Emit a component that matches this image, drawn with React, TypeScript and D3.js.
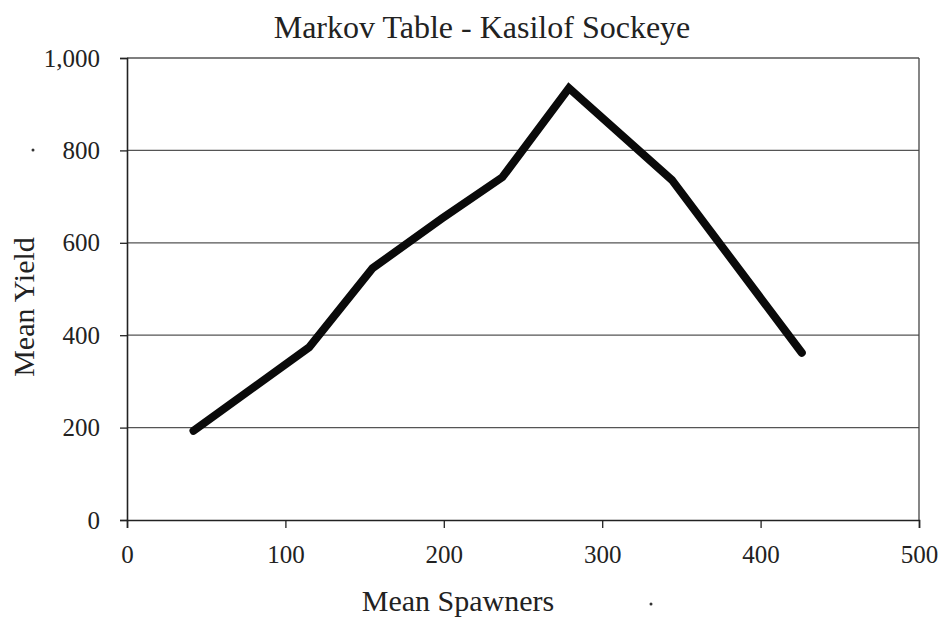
import React, { useEffect, useRef } from 'react';
import * as d3 from 'd3';

// Markov table values
const meanSpawners = [42, 115, 155, 199, 237, 279, 344, 426];
const meanYield = [193, 374, 545, 653, 742, 935, 736, 362];
const xTicks = [0, 100, 200, 300, 400, 500];
const yTicks = [0, 200, 400, 600, 800, 1000];

const App: React.FC = () => {
  const chartRef = useRef<HTMLDivElement>(null);

  useEffect(() => {
    if (!chartRef.current) return;
    document.body.style.margin = '0';
    d3.select(chartRef.current).selectAll('*').remove();

    const width = 943;
    const height = 617;
    const margin = { top: 58, right: 24, bottom: 97, left: 127 };
    const font = '"Liberation Serif", "Times New Roman", serif';

    const svg = d3.select(chartRef.current)
      .append('svg')
      .attr('width', width)
      .attr('height', height)
      .style('display', 'block')
      .style('background', '#fff');

    const x = d3.scaleLinear().domain([0, 500]).range([margin.left, width - margin.right]);
    const y = d3.scaleLinear().domain([0, 1000]).range([height - margin.bottom, margin.top]);

    // grid lines
    svg.append('g')
      .selectAll('line')
      .data(yTicks.filter((d) => d > 0))
      .enter()
      .append('line')
      .attr('x1', x(0))
      .attr('x2', x(500))
      .attr('y1', (d) => y(d))
      .attr('y2', (d) => y(d))
      .attr('stroke', '#555')
      .attr('stroke-width', 1.3);

    // right border
    svg.append('line')
      .attr('x1', x(500)).attr('x2', x(500))
      .attr('y1', y(1000)).attr('y2', y(0))
      .attr('stroke', '#444')
      .attr('stroke-width', 1.3);

    // axes
    const xAxis = d3.axisBottom(x).tickValues(xTicks).tickSize(8).tickPadding(17)
      .tickFormat((d: any) => d3.format('d')(d));
    const yAxis = d3.axisLeft(y).tickValues(yTicks).tickSize(7).tickPadding(20)
      .tickFormat((d: any) => d3.format(',')(d));

    const gx = svg.append('g')
      .attr('transform', `translate(0,${y(0)})`)
      .call(xAxis);
    gx.select('.domain').attr('stroke', '#222').attr('stroke-width', 1.6);
    gx.selectAll('.tick line').attr('stroke', '#222').attr('stroke-width', 1.3);
    gx.selectAll('text')
      .attr('font-family', font)
      .attr('font-size', '25px')
      .attr('fill', '#222');

    const gy = svg.append('g')
      .attr('transform', `translate(${x(0)},0)`)
      .call(yAxis);
    gy.select('.domain').attr('stroke', '#222').attr('stroke-width', 1.6);
    gy.selectAll('.tick line').attr('stroke', '#222').attr('stroke-width', 1.3);
    gy.selectAll('text')
      .attr('font-family', font)
      .attr('font-size', '25px')
      .attr('fill', '#222');

    // data line
    const data = meanSpawners.map((s, i) => ({ s, v: meanYield[i] }));
    const line = d3.line<{ s: number; v: number }>()
      .x((d) => x(d.s))
      .y((d) => y(d.v));

    svg.append('path')
      .datum(data)
      .attr('fill', 'none')
      .attr('stroke', '#0a0a0a')
      .attr('stroke-width', 8)
      .attr('stroke-linejoin', 'miter')
      .attr('stroke-linecap', 'round')
      .attr('d', line);

    // title
    svg.append('text')
      .attr('x', 482)
      .attr('y', 38)
      .attr('text-anchor', 'middle')
      .attr('font-family', font)
      .attr('font-size', '32px')
      .attr('fill', '#222')
      .text('Markov Table - Kasilof Sockeye');

    // axis labels
    svg.append('text')
      .attr('x', 458)
      .attr('y', 611)
      .attr('text-anchor', 'middle')
      .attr('font-family', font)
      .attr('font-size', '30px')
      .attr('fill', '#222')
      .text('Mean Spawners');

    svg.append('text')
      .attr('transform', 'rotate(-90)')
      .attr('x', -307)
      .attr('y', 34)
      .attr('text-anchor', 'middle')
      .attr('font-family', font)
      .attr('font-size', '30px')
      .attr('fill', '#222')
      .text('Mean Yield');

    // small specks from the scan
    svg.append('circle').attr('cx', 33).attr('cy', 150).attr('r', 1.5).attr('fill', '#333');
    svg.append('circle').attr('cx', 651).attr('cy', 604).attr('r', 1.5).attr('fill', '#333');
  }, []);

  return <div ref={chartRef}></div>;
};

export default App;
